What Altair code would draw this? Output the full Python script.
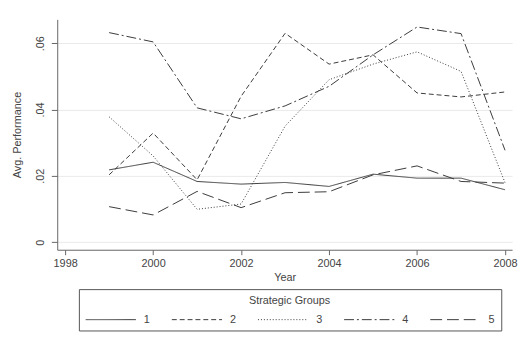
import altair as alt
import pandas as pd

years = [1999, 2000, 2001, 2002, 2003, 2004, 2005, 2006, 2007, 2008]
g1 = [0.0218, 0.0241, 0.0183, 0.0175, 0.0180, 0.0168, 0.0205, 0.0193, 0.0193, 0.0158]
g2 = [0.0203, 0.0329, 0.0188, 0.0440, 0.0630, 0.0537, 0.0565, 0.0450, 0.0438, 0.0453]
g3 = [0.0378, 0.0260, 0.0099, 0.0115, 0.0350, 0.0490, 0.0537, 0.0574, 0.0515, 0.0179]
g4 = [0.0632, 0.0604, 0.0405, 0.0372, 0.0411, 0.0470, 0.0565, 0.0649, 0.0629, 0.0277]
g5 = [0.0107, 0.0082, 0.0153, 0.0104, 0.0149, 0.0152, 0.0203, 0.0230, 0.0183, 0.0178]
groups = ["1", "2", "3", "4", "5"]
series = [g1, g2, g3, g4, g5]

rows = []
for g, vals in zip(groups, series):
    for yr, v in zip(years, vals):
        rows.append({"Year": yr, "Perf": v, "Group": g})
df = pd.DataFrame(rows)

font = "Liberation Sans"
txt = "#444444"

chart = alt.Chart(df).mark_line(color="#3a3a3a", strokeWidth=1).encode(
    x=alt.X("Year:Q",
            scale=alt.Scale(domain=[1997.82, 2008.16], nice=False, zero=False),
            axis=alt.Axis(values=[1998, 2000, 2002, 2004, 2006, 2008], format="d",
                          title="Year", grid=False, tickSize=5, labelPadding=3,
                          titlePadding=3)),
    y=alt.Y("Perf:Q",
            scale=alt.Scale(domain=[-0.0023, 0.0672], nice=False, zero=False),
            axis=alt.Axis(values=[0, 0.02, 0.04, 0.06],
                          labelExpr="datum.value === 0 ? '0' : replace(format(datum.value, '.2f'), '0.', '.')",
                          title="Avg. Performance", grid=True, tickSize=6,
                          labelAngle=270, labelAlign="center", labelBaseline="bottom",
                          labelPadding=6, titlePadding=12)),
    strokeDash=alt.StrokeDash("Group:N",
                              scale=alt.Scale(domain=groups,
                                              range=[[1, 0], [5, 3], [1, 2], [10, 3, 2, 3], [12, 5]]),
                              legend=alt.Legend(title="Strategic Groups", orient="none",
                                                legendX=22, legendY=274, direction="horizontal",
                                                columns=5, symbolType="M-1,0H9", symbolSize=104,
                                                symbolStrokeColor="#3a3a3a", symbolStrokeWidth=1,
                                                symbolFillColor="transparent",
                                                labelOffset=48, columnPadding=18.5,
                                                titleAnchor="middle", titleOrient="top",
                                                padding=6, strokeColor="#555555",
                                                fillColor="white", titlePadding=8,
                                                titleFontWeight="normal")),
).properties(
    width=462, height=234,
    autosize=alt.AutoSizeParams(type="none"),
    padding={"left": 50, "top": 9, "right": 6, "bottom": 81},
).configure_axis(
    labelFont=font, titleFont=font, labelFontSize=11, titleFontSize=11,
    labelColor=txt, titleColor=txt, titleFontWeight="normal",
    domainColor="#666666", tickColor="#666666", gridColor="#eaeaea",
).configure_legend(
    labelFont=font, titleFont=font, labelFontSize=11, titleFontSize=11,
    labelColor=txt, titleColor=txt,
).configure_view(stroke=None)

chart.save("out.html", embed_options={"renderer": "svg", "actions": False})
